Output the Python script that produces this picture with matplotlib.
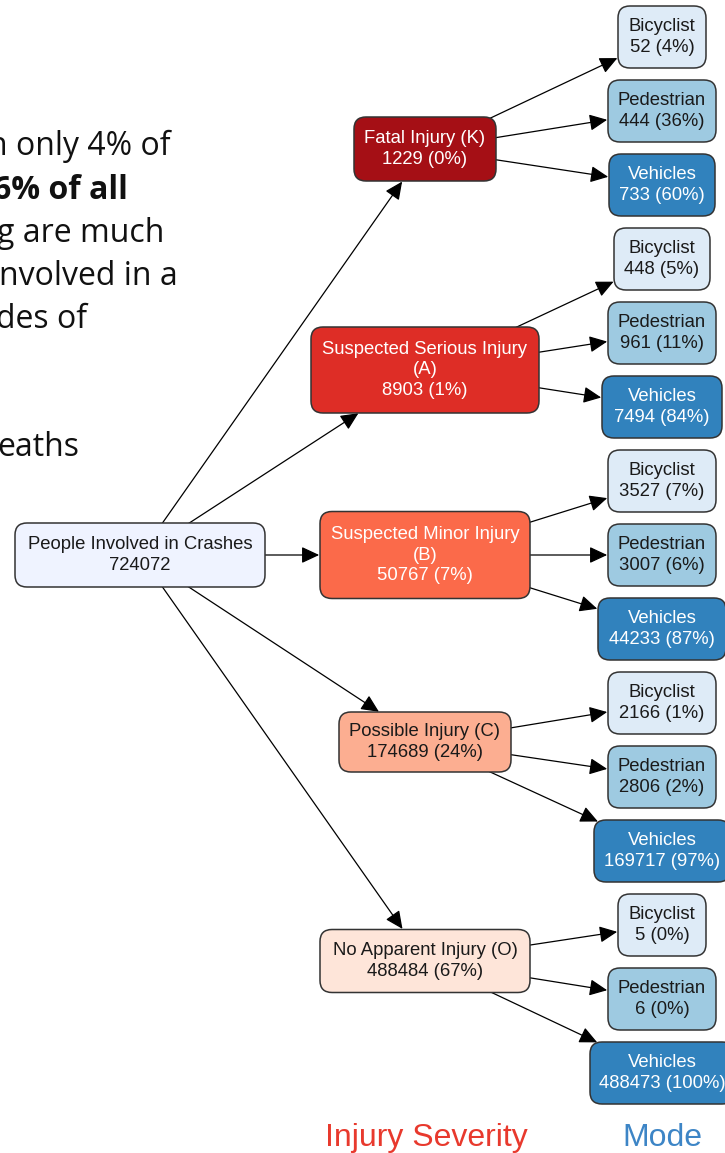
import matplotlib.pyplot as plt
from matplotlib.patches import FancyBboxPatch

# data
root_label = "People Involved in Crashes"
root_total = 724072

severity = ["Fatal Injury (K)", "Suspected Serious Injury\n(A)", "Suspected Minor Injury\n(B)",
            "Possible Injury (C)", "No Apparent Injury (O)"]
severity_counts = [1229, 8903, 50767, 174689, 488484]
severity_pct = [0, 1, 7, 24, 67]

modes = ["Bicyclist", "Pedestrian", "Vehicles"]
mode_counts = [[52, 444, 733], [448, 961, 7494], [3527, 3007, 44233],
               [2166, 2806, 169717], [5, 6, 488473]]
mode_pct = [[4, 36, 60], [5, 11, 84], [7, 6, 87], [1, 2, 97], [0, 0, 100]]

side_text = ["n only 4% of", "6% of all", "g are much", "nvolved in a", "des of", "eaths"]
side_bold = [False, True, False, False, False, False]

# styling / layout (pixels)
sev_colors = ["#a50f15", "#de2d26", "#fb6a4a", "#fcae91", "#fee5d9"]
sev_text = ["white", "white", "white", "#1a1a1a", "#1a1a1a"]
mode_colors = ["#deebf7", "#9ecae1", "#3182bd"]
mode_text = ["#1a1a1a", "#1a1a1a", "white"]
sev_y = [149, 370, 555, 742, 961]
sev_w = [142, 228, 210, 172, 210]
sev_h = [64, 86, 87, 60, 63]
mode_w = [[88, 108, 106], [96, 108, 120], [108, 108, 128], [108, 108, 136], [88, 108, 144]]
side_right = [171, 128, 164, 178, 87, 79]
side_base = [155, 199, 242, 285, 328, 456]

fig = plt.figure(figsize=(7.25, 11.53), dpi=100)
ax = fig.add_axes([0, 0, 1, 1])
ax.set_xlim(0, 725)
ax.set_ylim(1153, 0)
ax.axis("off")

FONT = "Liberation Sans"


def node(cx, cy, w, h, color, text, tcolor):
    r = 12
    p = FancyBboxPatch((cx - w / 2 + r, cy - h / 2 + r), w - 2 * r, h - 2 * r,
                       boxstyle=f"round,pad={r},rounding_size={r}",
                       fc=color, ec="#333333", lw=1.1, zorder=3)
    ax.add_patch(p)
    ax.text(cx, cy, text, ha="center", va="center", color=tcolor,
            fontsize=13.3, family=FONT, linespacing=1.3, zorder=4)
    return p


def edge(pa, pb, a, b):
    ax.annotate("", xy=b, xytext=a,
                arrowprops=dict(arrowstyle="-|>,head_length=0.6,head_width=0.28",
                                color="black", lw=0.9, patchA=pa, patchB=pb,
                                shrinkA=0, shrinkB=1, mutation_scale=18),
                zorder=2)


root = node(140, 555, 250, 64, "#eff3ff", f"{root_label}\n{root_total}", "#1a1a1a")

for i, name in enumerate(severity):
    cx, cy = 425, sev_y[i]
    box = node(cx, cy, sev_w[i], sev_h[i], sev_colors[i],
               f"{name}\n{severity_counts[i]} ({severity_pct[i]}%)", sev_text[i])
    edge(root, box, (140, 555), (cx, cy))
    for j, m in enumerate(modes):
        my = 37 + 74 * (3 * i + j)
        mb = node(662, my, mode_w[i][j], 62, mode_colors[j],
                  f"{m}\n{mode_counts[i][j]} ({mode_pct[i][j]}%)", mode_text[j])
        edge(box, mb, (cx, cy), (662, my))

for t, b, x, y in zip(side_text, side_bold, side_right, side_base):
    ax.text(x, y, t, ha="right", va="baseline", fontsize=23, family="Open Sans",
            fontweight="bold" if b else "normal", color="#111111")

ax.text(426, 1146, "Injury Severity", ha="center", va="baseline", fontsize=23,
        family=FONT, color="#e8392d")
ax.text(662, 1146, "Mode", ha="center", va="baseline", fontsize=23,
        family=FONT, color="#3d85c6")

fig.savefig("out.png", dpi=100)
